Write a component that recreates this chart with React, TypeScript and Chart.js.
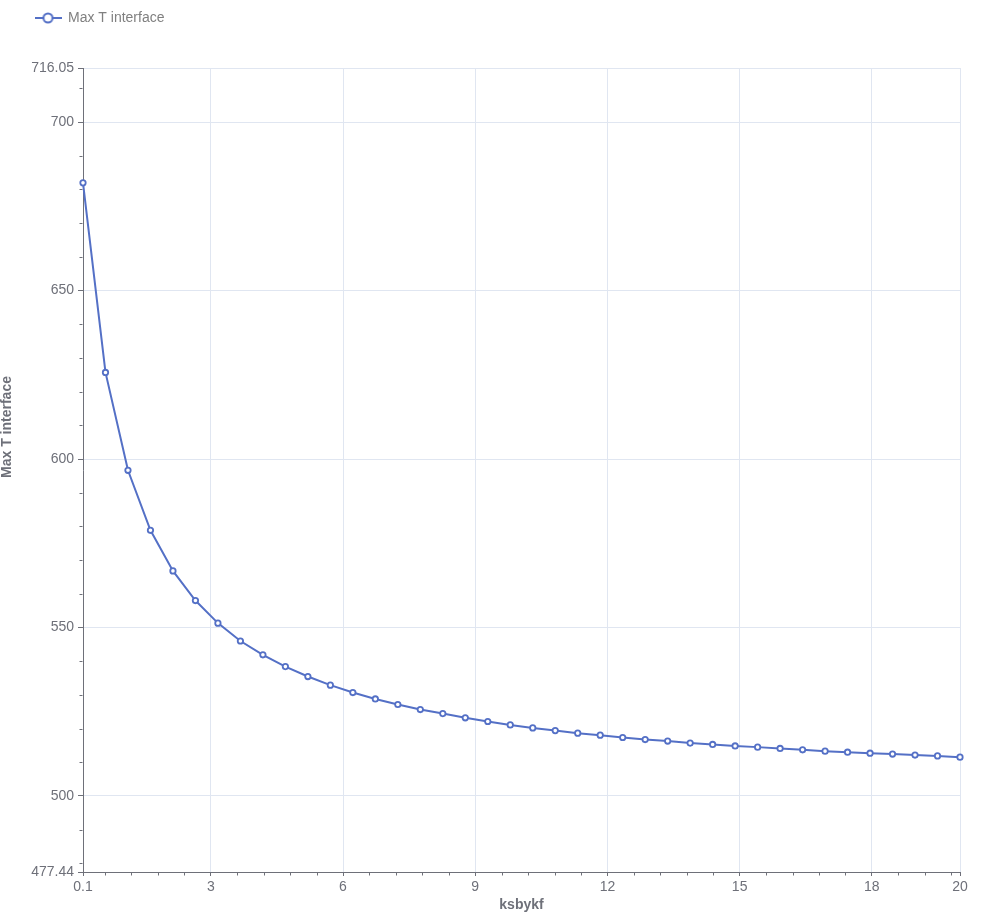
import React, { useEffect, useRef } from 'react';
import { Chart, registerables } from 'chart.js';

Chart.register(...registerables);

const SERIES_NAME = 'Max T interface';
const X_TITLE = 'ksbykf';
const Y_TITLE = 'Max T interface';

const KSBYKF = [
  0.1, 0.6103, 1.1205, 1.6308, 2.141, 2.6513, 3.1615, 3.6718, 4.1821, 4.6923,
  5.2026, 5.7128, 6.2231, 6.7333, 7.2436, 7.7538, 8.2641, 8.7744, 9.2846, 9.7949,
  10.3051, 10.8154, 11.3256, 11.8359, 12.3462, 12.8564, 13.3667, 13.8769, 14.3872, 14.8974,
  15.4077, 15.9179, 16.4282, 16.9385, 17.4487, 17.959, 18.4692, 18.9795, 19.4897, 20.0,
];

const MAX_T = [
  681.96, 625.7, 596.65, 578.85, 566.8, 558.0, 551.3, 546.0, 541.9, 538.4,
  535.45, 532.9, 530.7, 528.8, 527.15, 525.65, 524.45, 523.2, 522.1, 521.1,
  520.2, 519.4, 518.65, 518.05, 517.35, 516.75, 516.3, 515.7, 515.3, 514.85,
  514.5, 514.1, 513.7, 513.3, 513.0, 512.7, 512.45, 512.15, 511.9, 511.53,
];

const X_MIN = 0.1;
const X_MAX = 20;
const Y_MIN = 477.44;
const Y_MAX = 716.05;
const X_TICKS = [0.1, 3, 6, 9, 12, 15, 18, 20];
const X_TICK_LABELS = ['0.1', '3', '6', '9', '12', '15', '18', '20'];
const Y_TICKS = [477.44, 500, 550, 600, 650, 700, 716.05];
const Y_TICK_LABELS = ['477.44', '500', '550', '600', '650', '700', '716.05'];
const X_MINOR_STEP = 0.6;
const Y_MINOR_STEP = 10;

const LINE_COLOR = '#5470c6';
const AXIS_COLOR = '#6e7079';
const GRID_COLOR = '#e0e6f1';
const TEXT_COLOR = '#6e7079';
const FONT = "'Liberation Sans', Arial, sans-serif";

function makeLegendIcon(): HTMLCanvasElement {
  const c = document.createElement('canvas');
  c.width = 27;
  c.height = 14;
  const g = c.getContext('2d')!;
  g.strokeStyle = LINE_COLOR;
  g.lineWidth = 2;
  g.beginPath();
  g.moveTo(0, 7);
  g.lineTo(27, 7);
  g.stroke();
  g.beginPath();
  g.arc(13.5, 7, 4.5, 0, Math.PI * 2);
  g.fillStyle = '#fff';
  g.fill();
  g.stroke();
  return c;
}

const decorPlugin = {
  id: 'decor',
  beforeLayout(chart: any) {
    const lg = chart.legend;
    if (lg && !lg.__patched) {
      const orig = lg.fit.bind(lg);
      lg.fit = () => {
        orig();
        lg.height = 68;
      };
      lg.__patched = true;
    }
  },
  afterDraw(chart: any) {
    const ctx = chart.ctx;
    const xs = chart.scales.x;
    const ys = chart.scales.y;
    const area = chart.chartArea;
    ctx.save();
    ctx.strokeStyle = AXIS_COLOR;
    ctx.lineWidth = 1;
    ctx.beginPath();
    const by = Math.round(area.bottom) + 0.5;
    for (let k = 1; k * X_MINOR_STEP < X_MAX; k++) {
      if (k % 5 === 0) continue;
      const px = Math.round(xs.getPixelForValue(k * X_MINOR_STEP)) + 0.5;
      ctx.moveTo(px, by);
      ctx.lineTo(px, by + 3);
    }
    const lx = Math.round(area.left) - 0.5;
    for (let k = Math.ceil(Y_MIN / Y_MINOR_STEP); k * Y_MINOR_STEP < Y_MAX; k++) {
      if (k % 5 === 0) continue;
      const py = Math.round(ys.getPixelForValue(k * Y_MINOR_STEP)) + 0.5;
      ctx.moveTo(lx, py);
      ctx.lineTo(lx - 3, py);
    }
    ctx.stroke();

    ctx.translate(7, 427);
    ctx.rotate(-Math.PI / 2);
    ctx.fillStyle = TEXT_COLOR;
    ctx.font = `bold 14px ${FONT}`;
    ctx.textAlign = 'center';
    ctx.textBaseline = 'middle';
    ctx.fillText(Y_TITLE, 0, 0);
    ctx.restore();
  },
};

export default function App() {
  const ref = useRef<HTMLCanvasElement | null>(null);

  useEffect(() => {
    if (!ref.current) return;
    const icon = makeLegendIcon();
    const chart = new Chart(ref.current, {
      type: 'line',
      data: {
        datasets: [
          {
            label: SERIES_NAME,
            data: KSBYKF.map((x, i) => ({ x, y: MAX_T[i] })),
            borderColor: LINE_COLOR,
            backgroundColor: '#ffffff',
            borderWidth: 2,
            pointRadius: 2.7,
            pointBorderWidth: 1.8,
            pointBackgroundColor: '#ffffff',
            pointBorderColor: LINE_COLOR,
            tension: 0,
            clip: false as any,
          },
        ],
      },
      options: {
        animation: false,
        responsive: true,
        maintainAspectRatio: false,
        events: [],
        layout: { padding: { left: 24, right: 22, top: 0, bottom: 0 } },
        plugins: {
          tooltip: { enabled: false },
          legend: {
            display: true,
            position: 'top',
            align: 'start',
            labels: {
              usePointStyle: true,
              pointStyle: icon as any,
              pointStyleWidth: 26,
              padding: 11,
              color: '#808080',
              font: { size: 14, family: FONT },
            },
          },
        },
        scales: {
          x: {
            type: 'linear',
            min: X_MIN,
            max: X_MAX,
            afterBuildTicks: (scale: any) => {
              scale.ticks = X_TICKS.map((v) => ({ value: v }));
            },
            afterFit: (scale: any) => {
              scale.height = 44;
            },
            ticks: {
              autoSkip: false,
              maxRotation: 0,
              padding: 3,
              color: TEXT_COLOR,
              font: { size: 14, family: FONT },
              callback: (_v: any, i: number) => X_TICK_LABELS[i],
            },
            grid: {
              color: GRID_COLOR,
              lineWidth: 1,
              drawTicks: true,
              tickLength: 4,
              tickColor: AXIS_COLOR,
            },
            border: { display: true, color: AXIS_COLOR, width: 1 },
            title: {
              display: true,
              text: X_TITLE,
              color: TEXT_COLOR,
              font: { size: 14, weight: 'bold', family: FONT },
              padding: { top: 0, bottom: 2.6 },
            },
          },
          y: {
            type: 'linear',
            min: Y_MIN,
            max: Y_MAX,
            afterBuildTicks: (scale: any) => {
              scale.ticks = Y_TICKS.map((v) => ({ value: v }));
            },
            afterFit: (scale: any) => {
              scale.width = 59;
            },
            ticks: {
              autoSkip: false,
              padding: 4,
              color: TEXT_COLOR,
              font: { size: 14, family: FONT },
              callback: (_v: any, i: number) => Y_TICK_LABELS[i],
            },
            grid: {
              color: GRID_COLOR,
              lineWidth: 1,
              drawTicks: true,
              tickLength: 5,
              tickColor: AXIS_COLOR,
            },
            border: { display: true, color: AXIS_COLOR, width: 1 },
          },
        },
      },
      plugins: [decorPlugin],
    });
    return () => chart.destroy();
  }, []);

  return (
    <div style={{ position: 'absolute', left: 0, top: 0, width: 982, height: 916 }}>
      <canvas ref={ref} />
    </div>
  );
}
